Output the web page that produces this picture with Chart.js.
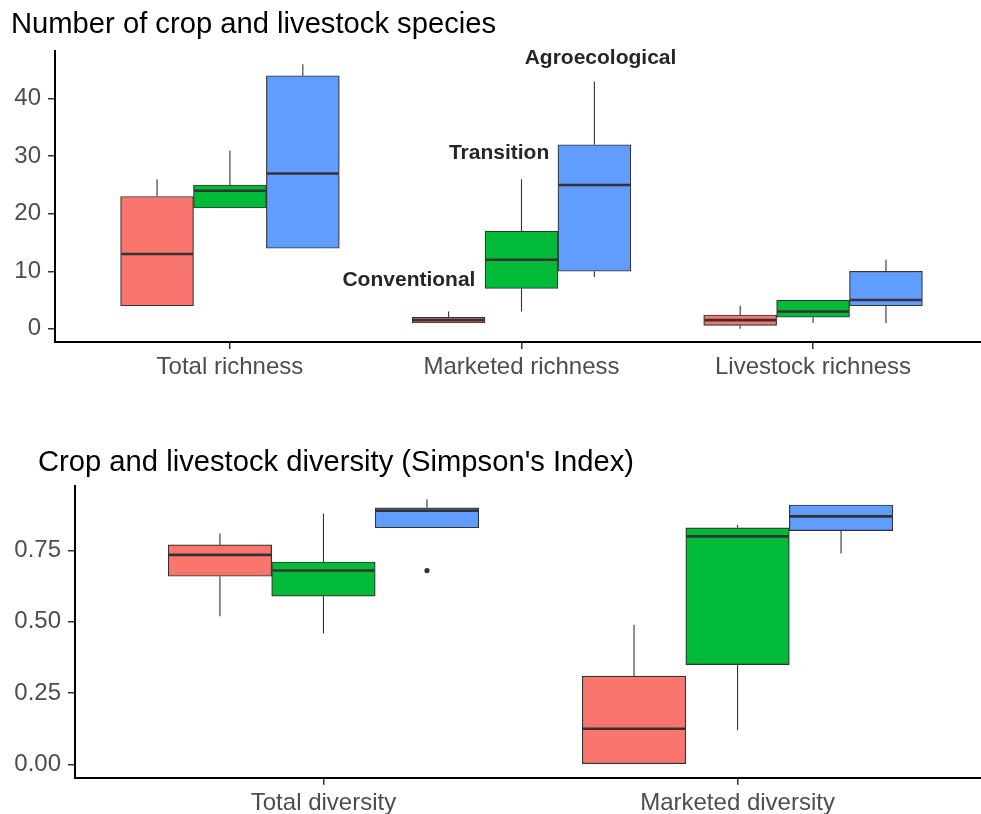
<!DOCTYPE html>
<html>
<head>
<meta charset="utf-8">
<script src="https://cdn.jsdelivr.net/npm/chart.js@4.4.1/dist/chart.umd.min.js"></script>
<style>
  html, body { margin: 0; padding: 0; background: #ffffff; overflow: hidden; }
  #wrap { position: relative; width: 981px; height: 814px; overflow: hidden; background: #ffffff; }
  canvas { position: absolute; left: 0; }
  #richness { top: 0; }
  #diversity { top: 420px; }
</style>
</head>
<body>
<div id="wrap">
  <canvas id="richness" width="990" height="400"></canvas>
  <canvas id="diversity" width="990" height="394"></canvas>
</div>
<script>
// ---- data -------------------------------------------------------------
const groups = ['Conventional', 'Transition', 'Agroecological'];

const richnessCategories = ['Total richness', 'Marketed richness', 'Livestock richness'];
const richnessTicks = [0, 10, 20, 30, 40];
// each row: [lower whisker, Q1, median, Q3, upper whisker], one row per category
const richnessConventional   = [[4, 4, 13, 23, 26], [1, 1, 1.5, 2, 3], [0, 0.6, 1.5, 2.4, 4]];
const richnessTransition     = [[21, 21, 24, 25, 31], [3, 7, 12, 17, 26], [1, 2, 3, 5, 5]];
const richnessAgroecological = [[14, 14, 27, 44, 46], [9, 10, 25, 32, 43], [1, 4, 5, 10, 12]];

const diversityCategories = ['Total diversity', 'Marketed diversity'];
const diversityTicks = [0, 0.25, 0.5, 0.75];
const diversityConventional   = [[0.52, 0.66, 0.735, 0.77, 0.81], [0, 0, 0.125, 0.31, 0.49]];
const diversityTransition     = [[0.46, 0.59, 0.68, 0.71, 0.88], [0.12, 0.35, 0.80, 0.83, 0.84]];
const diversityAgroecological = [[0.83, 0.83, 0.89, 0.90, 0.93], [0.74, 0.82, 0.87, 0.91, 0.91]];
// single outlying farm: Agroecological, Total diversity
const diversityOutlierGroup = [2];
const diversityOutlierCategory = [0];
const diversityOutlierValue = [0.68];

// group names written next to the Marketed richness boxes, in data units [x, y]
const groupLabelAt = [[1.614, 8.4], [1.923, 30.6], [2.271, 47]];

// ---- styling ----------------------------------------------------------
const FONT = "'Liberation Sans', Arial, Helvetica, sans-serif";
const FILL = ['#F8766D', '#00BA38', '#619CFF'];
const INK = '#333333';
const TICK_TEXT = '#4d4d4d';
const DODGE = 0.25;   // width of one box in category units (0.75 split over 3 groups)

function boxDatasets(series, outliers) {
  const sets = series.map((rows, g) => ({
    type: 'bar',
    label: groups[g],
    data: rows.map((r, c) => ({ x: c + 1 + (g - 1) * DODGE, y: [r[1], r[3]], stats: r })),
    backgroundColor: FILL[g],
    borderColor: INK,
    borderWidth: 1.2,
    borderSkipped: false,
    grouped: false,
    categoryPercentage: 1,
    barPercentage: 1
  }));
  if (outliers) {
    sets.push({
      type: 'scatter',
      label: 'outliers',
      data: outliers.group.map((g, i) => ({
        x: outliers.category[i] + 1 + (g - 1) * DODGE,
        y: outliers.value[i]
      })),
      pointRadius: 2.6,
      pointStyle: 'circle',
      backgroundColor: INK,
      borderColor: INK,
      borderWidth: 0
    });
  }
  return sets;
}

// whiskers and median lines, placed from each bar element and the y scale
const boxWhiskers = {
  id: 'boxWhiskers',
  afterDatasetsDraw(chart) {
    const { ctx, chartArea } = chart;
    const y = chart.scales.y;
    ctx.save();
    ctx.beginPath();
    ctx.rect(chartArea.left, chartArea.top, chartArea.width, chartArea.height);
    ctx.clip();
    ctx.strokeStyle = INK;
    chart.data.datasets.forEach((ds, di) => {
      if (ds.type !== 'bar') return;
      chart.getDatasetMeta(di).data.forEach((bar, i) => {
        const [lo, q1, med, q3, hi] = ds.data[i].stats;
        const half = bar.width / 2;
        ctx.lineWidth = 1.1;
        ctx.beginPath();
        if (hi > q3) {
          ctx.moveTo(bar.x, y.getPixelForValue(q3));
          ctx.lineTo(bar.x, y.getPixelForValue(hi));
        }
        if (lo < q1) {
          ctx.moveTo(bar.x, y.getPixelForValue(q1));
          ctx.lineTo(bar.x, y.getPixelForValue(lo));
        }
        ctx.stroke();
        const ym = y.getPixelForValue(med);
        ctx.lineWidth = 2.6;
        ctx.beginPath();
        ctx.moveTo(bar.x - half + 0.6, ym);
        ctx.lineTo(bar.x + half - 0.6, ym);
        ctx.stroke();
      });
    });
    ctx.restore();
  }
};

const groupLabels = {
  id: 'groupLabels',
  afterDraw(chart, args, opts) {
    if (!opts.show) return;
    const { ctx } = chart;
    const { x, y } = chart.scales;
    ctx.save();
    ctx.font = 'bold 21px ' + FONT;
    ctx.fillStyle = '#262626';
    ctx.textAlign = 'center';
    ctx.textBaseline = 'middle';
    groups.forEach((name, g) => {
      const [vx, vy] = groupLabelAt[g];
      ctx.fillText(name, x.getPixelForValue(vx), y.getPixelForValue(vy));
    });
    ctx.restore();
  }
};

// panel heading, set in the space kept free above the plot area
const panelTitle = {
  id: 'panelTitle',
  afterDraw(chart, args, opts) {
    const { ctx } = chart;
    ctx.save();
    ctx.font = '29.2px ' + FONT;
    ctx.fillStyle = '#000000';
    ctx.textAlign = 'left';
    ctx.textBaseline = 'middle';
    ctx.fillText(opts.text, opts.x, opts.y);
    ctx.restore();
  }
};

function expanded(lo, hi) {
  const pad = (hi - lo) * 0.05;
  return [lo - pad, hi + pad];
}

function buildChart(canvas, o) {
  const all = o.series.flat().flat().concat(o.outliers ? o.outliers.value : []);
  const [ymin, ymax] = expanded(Math.min(...all), Math.max(...all));
  const axisGrid = {
    display: true, drawOnChartArea: false, drawTicks: true,
    tickLength: 7, color: INK, lineWidth: 1.5, offset: false
  };
  const axisBorder = { display: true, color: '#000000', width: 2 };
  return new Chart(canvas, {
    type: 'bar',
    data: { datasets: boxDatasets(o.series, o.outliers) },
    plugins: [boxWhiskers, groupLabels, panelTitle],
    options: {
      responsive: false,
      devicePixelRatio: 1,
      animation: false,
      events: [],
      layout: { padding: { left: 0, right: 2, top: o.plotTop, bottom: 0 } },
      plugins: {
        legend: { display: false },
        tooltip: { enabled: false },
        title: { display: false },
        panelTitle: { text: o.title, x: o.titleX, y: o.titleY },
        groupLabels: { show: !!o.labels }
      },
      scales: {
        x: {
          type: 'linear',
          offset: false,
          min: 0.4,
          max: o.categories.length + 0.6,
          afterBuildTicks: s => { s.ticks = o.categories.map((_, i) => ({ value: i + 1 })); },
          afterFit: s => { s.height = o.xHeight; },
          ticks: {
            autoSkip: false, maxRotation: 0, padding: 4,
            color: TICK_TEXT,
            font: { family: FONT, size: 24 },
            callback: v => o.categories[Math.round(v) - 1]
          },
          grid: axisGrid,
          border: axisBorder
        },
        y: {
          type: 'linear',
          min: ymin,
          max: ymax,
          afterBuildTicks: s => { s.ticks = o.ticks.map(v => ({ value: v })); },
          afterFit: s => { s.width = o.plotLeft; },
          ticks: {
            padding: 7,
            color: TICK_TEXT,
            font: { family: FONT, size: 24 },
            callback: v => o.tickFormat(v)
          },
          grid: axisGrid,
          border: axisBorder
        }
      }
    }
  });
}

buildChart(document.getElementById('richness'), {
  title: 'Number of crop and livestock species',
  titleX: 11, titleY: 24.7,
  categories: richnessCategories,
  series: [richnessConventional, richnessTransition, richnessAgroecological],
  ticks: richnessTicks,
  tickFormat: v => String(v),
  labels: true,
  plotLeft: 55, plotTop: 51,
  xHeight: 58
});

buildChart(document.getElementById('diversity'), {
  title: "Crop and livestock diversity (Simpson's Index)",
  titleX: 38, titleY: 42.5,
  categories: diversityCategories,
  series: [diversityConventional, diversityTransition, diversityAgroecological],
  outliers: { group: diversityOutlierGroup, category: diversityOutlierCategory, value: diversityOutlierValue },
  ticks: diversityTicks,
  tickFormat: v => v.toFixed(2),
  labels: false,
  plotLeft: 75, plotTop: 66,
  xHeight: 36.3
});
</script>
</body>
</html>
